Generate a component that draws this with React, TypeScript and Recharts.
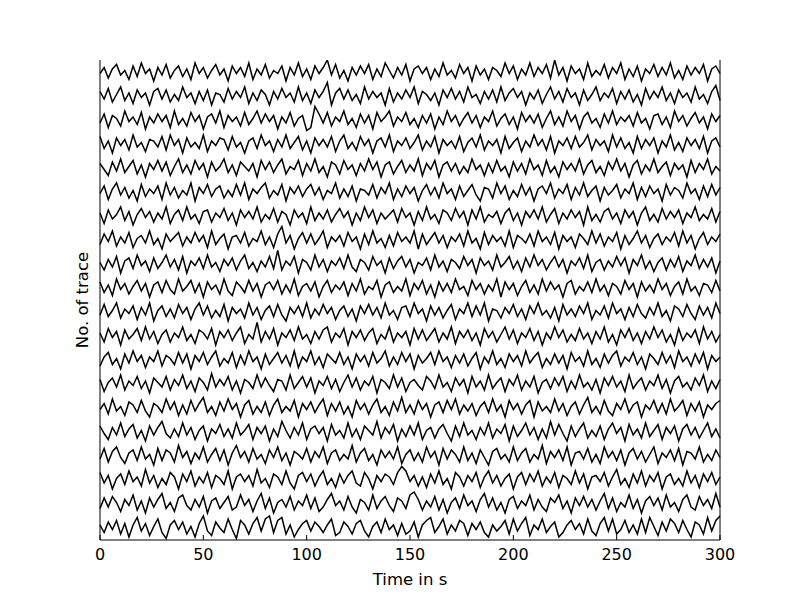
import { LineChart, Line, XAxis, YAxis, ReferenceLine } from 'recharts'

// 20 traces, bottom (t0) to top (t19); samples every 2 s, values in trace-offset units (24 per trace)
const t0 = [2,-3,4,-1,5,-4,3,-6,2,7, -2,3,-5,1,6,-3,-7,2,5,-1, 4,-4,1,-6,3,8,-2,-5,4,0, -3,6,-1,-7,5,2,-4,3,7,-2, 6,8,-3,5,7,-4,2,-6,-1,3, 5,-2,4,1,-3,2,6,-5,-3,4, 1,-4,3,5,-2,-6,1,4,-3,6, -1,2,-5,3,-4,-2,4,-6,2,5, 7,-3,1,6,-4,2,-2,5,3,-5, 3,-1,4,-3,-6,2,-2,1,5,-4, 6,-2,3,7,-5,2,-1,6,-3,1, 4,-6,-3,2,5,-1,3,-4,6,-2, -5,3,7,-2,6,-4,-1,5,-3,2, -4,6,-3,7,1,-5,4,-2,6,3, -3,5,-1,-6,4,2,-4,7,-2,5, 8]
const t1 = [-3,4,-2,5,1,-5,3,-1,6,-4, 2,-6,4,-2,3,7,-3,1,-5,4, 6,-1,-4,3,-2,5,-6,2,4,-3, 1,5,-4,-2,6,-1,3,-5,2,7, -3,4,-6,1,3,-2,5,-4,2,-1, 6,-3,4,-5,-2,3,7,-1,2,-4, 5,-2,-6,3,1,-4,6,-3,2,5, -1,-5,4,2,-3,6,8,3,-4,2, -2,5,-4,3,-6,1,4,-3,6,-1, 2,-5,3,7,-2,4,-4,1,-6,3, 5,-3,2,-1,6,-4,3,-2,-5,4, 1,6,-3,2,-6,4,-1,5,-2,3, -4,2,7,-3,4,-5,1,-2,6,-3, 3,-6,2,5,-1,4,-4,6,-2,1, -5,3,6,-2,-4,5,-1,3,-3,7, -2]
const t2 = [5,-2,3,-6,1,4,-3,6,-1,2, -4,7,-2,3,-5,1,-3,5,2,-6, 4,-1,6,-4,2,-2,5,-5,3,1, -3,6,-6,2,4,-1,3,-4,7,-2, 1,-5,4,2,-3,6,-2,-6,3,5, -1,4,-4,2,6,-3,1,-5,4,-2, 3,6,-2,-4,5,1,-6,3,-1,4, 2,-3,5,9,6,-1,3,-4,2,-5, 4,-2,6,-3,1,-6,5,2,-4,3, -1,5,-5,2,6,-2,3,-4,1,4, -6,2,5,-3,4,-1,6,-4,2,-2, 5,-5,3,1,-3,6,-2,4,-6,2, 3,-1,5,-4,2,7,-3,1,-5,4, -2,6,-4,3,-1,5,-6,2,4,-3, 1,-4,6,-2,3,-5,4,-1,5,-3, 2]
const t3 = [-2,5,-4,3,6,-1,-5,2,4,-3, 6,-2,1,-6,5,-3,4,2,-4,7, -1,3,-5,2,-2,6,-4,1,5,-3, 4,-6,2,7,-1,3,-4,5,-2,1, -5,4,-1,6,-3,2,-6,3,1,-2, 5,-4,3,-1,6,-5,2,4,-3,1, -2,7,-4,2,5,-3,1,-6,4,-1, 3,-2,6,-5,1,4,-3,2,-4,6, -1,3,-6,5,-2,4,1,-4,6,-3, 2,-5,4,-1,-6,3,5,-2,1,-4, 6,-3,2,5,-4,1,-2,7,-5,3, -1,4,-3,6,-6,2,3,-2,5,-4, 1,-5,6,-1,3,-3,4,-6,2,5, -2,3,-4,1,6,-5,2,-1,4,-3, 5,-6,3,2,-2,6,-4,1,-3,4, -1]
const t4 = [4,-1,-5,3,-2,6,-3,2,5,-4, 1,-6,4,-2,3,7,-1,-4,2,-3, 6,-2,3,-5,1,4,-6,2,-1,5, -3,2,-4,6,-2,1,5,-5,3,-1, 4,-6,2,-3,7,1,-4,3,-2,6, -5,2,4,-1,3,-6,5,-2,1,-4, 6,-3,2,-5,4,1,-2,7,-4,3, -1,5,-6,2,-3,4,-2,6,-5,1, 3,-4,2,5,-1,-6,4,-3,6,-2, 1,-5,3,-2,6,-4,2,-1,5,-6, 4,-3,1,6,-2,3,-5,2,-4,7, -2,5,-1,-6,4,-3,2,6,-4,1, -3,4,-5,2,6,-1,3,-6,5,-2, 2,-4,6,-3,1,5,-5,3,-1,4, -6,2,5,-2,3,-4,1,6,-3,2, -4]
const t5 = [-1,3,-4,6,-2,1,-5,4,2,-3, 5,-2,-6,3,1,-3,6,-1,4,-5, 2,-4,5,-2,3,7,-3,1,-5,4, -2,6,-1,3,-6,2,5,-4,1,-3, 4,-5,2,6,-3,1,-2,5,-6,3, -1,4,-3,2,6,-5,3,-2,4,-4, 1,-6,5,-1,3,-4,2,6,-3,1, -5,4,-2,7,-3,2,-4,5,-1,3, -6,2,4,-3,5,-1,6,-4,2,-2, 3,-5,1,4,-3,6,-2,2,-6,5, -1,3,-4,2,5,-6,4,-2,1,-3, 6,-2,3,-5,1,4,-4,2,7,-3, 1,-4,5,-2,-5,3,-1,6,-3,2, 4,-6,2,-1,5,-3,3,-4,6,-2, 1,5,-5,3,-2,4,-6,2,-1,3, 5]
const t6 = [3,-5,1,4,-2,6,-4,2,-1,5, -3,2,-6,4,1,-2,5,-4,3,-1, 6,-3,2,-5,4,1,-4,7,-2,3, -1,5,-4,2,-6,3,1,-3,6,-2, 4,-1,-5,3,2,-4,6,-3,1,5, -2,4,-6,2,-1,5,-3,3,-5,1, 6,-2,4,-4,2,-1,5,-6,3,1, -3,6,-2,4,-5,1,3,-1,-4,5, 2,-3,6,-2,1,-5,4,-1,3,-6, 5,-2,2,-4,6,-3,1,4,-5,3, -1,6,-4,2,-2,5,-6,1,3,-3, 4,-1,5,-5,2,-3,6,-2,1,-4, 3,-6,4,-1,5,-2,2,-5,6,-3, 1,4,-4,2,-1,6,-3,3,-6,2, 5,-2,1,-4,4,-1,6,-5,2,-3, 3]
const t7 = [-4,2,5,-3,1,-6,4,-2,6,-1, 3,-5,2,-1,6,-4,3,1,-3,5, -2,4,-6,3,-1,5,-3,2,6,-4, 1,-2,5,-5,3,-3,6,-1,2,-6, 4,-3,1,5,-2,3,-4,6,-5,2, -1,6,-3,2,-5,4,1,-2,5,-3, 2,-6,4,-1,3,-4,5,-2,1,6, -4,2,-3,5,-1,4,-6,3,-2,1, 5,-3,6,-1,2,-5,3,-2,4,-4, 1,5,-6,2,-2,6,-3,1,-5,4, -1,3,-4,6,-2,2,5,-5,1,-3, 4,-2,3,-6,5,-1,2,-4,6,-3, 1,-5,4,-2,3,6,-4,2,-1,5, -3,2,-6,4,1,-3,5,-2,3,-5, 6,-1,2,-4,4,-2,5,-6,3,-1, 2]
const t8 = [2,-4,5,-1,3,-6,4,-2,1,5, -3,6,-2,3,-5,1,4,-4,2,-1, 6,-3,1,-5,4,2,-2,5,-6,3, -1,4,-3,2,6,-5,1,-2,9,-4, 3,-2,5,-6,2,-1,4,-3,6,-2, 1,-5,3,-2,4,6,-4,2,-1,5, -6,3,-1,4,-3,2,5,-5,1,-2, 6,-4,2,-1,3,-6,5,-2,4,-3, 1,5,-4,2,-2,6,-5,3,-1,4, -3,2,-6,5,-1,3,-4,1,6,-2, 4,-5,2,-1,5,-3,3,-6,2,-2, 6,-1,4,-4,1,-3,5,-2,2,-5, 3,-2,6,-4,1,-6,4,-1,5,-3, 2,-5,3,-2,6,-1,4,-4,1,-6, 5,-3,2,-1,4,-5,6,-2,3,-4, 1]
const t9 = [-2,5,-3,1,6,-4,2,-1,4,-5, 3,-2,6,-6,1,4,-3,2,-4,5, -1,3,-5,2,6,-2,4,-4,1,-3, 5,-6,3,-1,2,-4,6,-2,3,-5, 1,4,-3,5,-2,-6,3,-1,4,-3, 6,-4,2,-2,5,-1,3,-5,1,4, -3,2,-6,4,-1,5,-2,3,-4,6, -2,1,-5,3,4,-3,6,-1,2,-6, 4,-2,3,-4,1,5,-5,2,-1,6, -3,4,-2,6,-6,2,1,-4,3,-1, 5,-3,2,-5,4,-1,6,-2,1,-4, 3,-6,5,-2,2,-3,4,-1,6,-5, 1,-2,4,-4,6,-1,2,-5,3,-3, 5,-1,-4,3,-2,6,-3,1,-6,4, 2,-3,5,-1,-5,4,-2,3,-4,6, -1]
const t10 = [4,-3,2,-5,6,-1,3,-4,1,5, -2,3,-6,2,4,-3,5,-1,-4,6, -2,1,5,-3,3,-6,4,-1,2,-4, 6,-2,-5,4,1,-3,5,-2,3,-6, 2,4,-1,5,-4,2,-3,6,-5,1, 3,-2,4,-6,1,5,-3,2,-1,4, -5,3,-2,6,-4,1,-1,5,-6,2, 4,-3,1,-2,6,-5,3,-1,5,-4, 2,-6,4,-2,3,-3,6,-1,1,-5, 5,-1,3,-4,2,-2,6,-6,4,-1, 3,-5,1,5,-3,2,-4,6,-2,4, -1,2,-6,3,5,-4,1,-2,4,-3, 6,-2,2,-5,3,1,-4,5,-1,3, -6,4,-2,2,-3,6,-1,3,-5,1, 4,-4,6,-2,1,-5,3,2,-3,5, -2]
const t11 = [1,-4,3,-2,5,-6,2,4,-3,6, -1,2,-5,4,-3,1,6,-2,3,-4, 5,-6,2,-1,4,-3,6,-2,1,-5, 3,-1,4,-4,2,6,-3,1,-5,2, -2,5,-3,9,-4,2,-1,5,-6,3, 1,-4,6,-2,3,-5,2,-1,4,-3, 6,-2,-5,3,1,-4,5,-1,2,-6, 4,-3,2,5,-2,3,-6,1,-1,4, -4,6,-2,2,-5,3,1,-3,5,-1, 3,-6,4,-1,2,-4,6,-2,1,5, -3,2,-5,4,-2,6,-1,3,-4,1, 5,-2,3,-6,2,-1,4,-3,6,-5, 1,3,-4,2,-2,5,-1,4,-6,3, -1,6,-3,2,-5,1,4,-4,3,-2, 5,-5,2,-1,6,-3,3,-2,4,-6, 2]
const t12 = [-3,4,-1,6,-4,2,-2,5,-5,1, 3,-2,6,-3,1,-6,4,-1,2,5, -4,2,-2,5,-1,3,-5,6,-3,1, 4,-6,2,3,-2,5,-4,1,-1,6, -3,2,-5,4,9,-2,3,-6,1,5, -2,4,-3,1,6,-5,2,-1,3,-4, 5,-1,2,-6,4,-3,6,-2,1,-5, 3,-4,5,-1,2,-2,6,-6,4,-3, 1,5,-2,3,-5,2,-1,4,-4,6, -2,1,-6,5,-3,3,-1,2,-4,6, -5,3,1,-2,4,-4,6,-1,2,-3, 5,-6,3,-1,2,-5,4,1,-3,6, -2,4,-4,2,-1,5,-6,3,-3,1, 6,-2,3,-5,1,4,-3,2,-1,5, -4,6,-2,3,-6,1,5,-3,2,-1, 4]
const t13 = [2,-5,4,-2,1,6,-3,3,-6,1, 5,-1,3,-4,2,-2,6,-5,1,4, -3,6,-2,1,-5,3,4,-4,2,-1, 5,-3,2,-6,4,-1,3,-2,6,-4, 1,-2,5,-4,3,1,-6,4,-1,2, -5,6,-3,2,-2,4,-4,1,5,-1, 3,-6,2,-3,6,-1,4,-5,2,-2, 1,4,-4,5,-1,2,-6,3,-3,6, -2,1,-5,4,2,-3,5,-1,3,-6, 4,-2,6,-4,1,-1,3,-5,2,5, -3,2,-6,3,-1,4,-2,6,-4,1, 5,-5,2,-2,4,-1,3,-6,6,-3, 1,-4,3,5,-2,2,-5,4,-1,3, -6,2,6,-3,1,-4,5,-2,3,-1, 4,-5,2,-1,6,-3,1,-2,5,-4, 3]
const t14 = [-1,4,-5,2,6,-2,3,-4,1,-6, 5,-3,2,-1,4,-5,6,-2,3,-4, 1,-2,6,-6,3,-1,5,-3,2,4, -4,1,-3,5,-2,6,-5,2,-1,3, 6,-4,1,-2,5,-6,3,-1,4,-3, 2,5,-2,3,-5,1,-1,6,-4,2, -3,4,-6,2,1,-2,5,-4,3,-1, 6,-5,2,-3,4,-1,3,-6,1,5, -2,3,-4,6,-1,2,-5,4,-3,1, 5,-2,-6,3,2,-4,6,-1,4,-5, 1,-3,5,-2,3,-6,2,4,-1,6, -4,2,-1,5,-5,3,-2,6,-3,1, 4,-6,3,-2,1,5,-4,2,-1,6, -5,3,-3,4,-1,2,-6,5,-2,3, 1,-4,6,-1,2,-5,4,-3,5,-2, 3]
const t15 = [3,-1,-5,4,-2,6,-3,1,5,-4, 2,-6,3,-1,5,-2,4,-5,1,6, -3,2,-4,5,-1,3,-6,4,-2,1, 6,-3,2,-5,4,1,-2,3,-6,5, -1,4,-3,2,6,-4,1,-1,5,-5, 3,-2,6,-3,1,-6,4,2,-4,5, -1,2,-5,3,-2,6,-1,4,-6,2, 4,-4,1,5,-3,2,-2,6,-5,3, -1,5,-6,2,4,-2,3,-4,1,-3, 6,-1,2,-5,3,-3,5,-2,1,-6, 4,-2,3,-4,6,-1,2,-5,5,-3, 1,-6,4,-1,3,-2,6,-4,2,5, -3,1,-5,4,-1,6,-2,3,-6,2, 5,-4,2,-2,6,-3,1,4,-5,3, -1,2,-6,5,-3,3,-1,6,-4,1, -2]
const t16 = [5,-3,2,-6,4,-1,3,-4,6,-2, 1,-5,3,2,-2,5,-4,6,-1,3, -6,4,-2,1,-3,6,-5,2,-1,4, 3,-4,5,-2,1,-6,2,4,-3,6, -1,2,-5,3,-2,6,-3,1,5,-4, 2,-6,4,-1,3,-2,5,-5,2,6, -3,1,-4,5,-1,3,-6,2,4,-2, 6,-5,2,-1,4,-3,1,6,-4,2, -2,5,-6,3,-1,2,-3,5,-5,1, 4,-2,6,-4,2,-1,3,-6,5,-3, 1,4,-5,2,-2,6,-1,3,-4,5, -6,2,-1,4,-3,5,-2,1,6,-4, 3,-1,2,-5,6,-2,4,-3,1,-6, 5,-3,3,-1,4,-6,2,-2,6,-4, 1,-5,4,-1,3,-3,5,-6,2,4, -2]
const t17 = [-2,4,-5,3,1,-4,6,-1,2,-3, 5,-6,2,-2,4,-1,3,-5,6,-3, 1,-4,5,-1,3,-6,2,4,-2,6, -5,3,-1,2,-4,5,-3,1,6,-2, 4,-1,3,-6,2,-2,5,-4,1,3, -7,-5,9,4,-2,5,-4,2,-1,6, -3,1,-5,4,-2,3,-6,5,-1,2, 6,-4,2,-1,5,-3,1,-5,3,-2, 4,-6,2,-3,6,-1,3,-4,1,5, -2,3,-5,2,-1,6,-4,1,4,-3, 2,-6,5,-1,3,-2,4,-5,1,6, -3,2,-4,6,-1,3,-6,2,5,-2, 1,-5,4,-2,6,-3,2,-1,3,-4, 5,-2,1,-6,3,4,-3,2,-5,6, -1,3,-4,1,5,-2,2,-6,4,-1, 3]
const t18 = [3,-2,5,-4,1,6,-3,2,-5,4, -1,2,-6,3,5,-2,4,-4,1,-3, 6,-1,2,-5,3,-3,4,-6,2,1, -4,5,-2,3,-1,6,-5,2,-3,4, 1,-6,3,-2,5,-1,2,-4,6,-3, 2,-5,4,-1,3,9,-6,2,5,-2, 4,-3,1,-5,6,-2,3,-1,2,-6, 5,-4,2,-2,4,-1,6,-5,3,1, -3,2,-6,4,-1,5,-2,3,-4,6, -1,1,-5,3,-2,4,-4,6,-3,2, 5,-1,3,-6,2,-2,4,-5,1,6, -2,3,-4,5,-1,2,-6,4,-3,1, 6,-3,2,-1,5,-5,3,-2,4,-4, 1,-6,5,-2,3,-1,6,-3,2,-5, 4,-1,2,-4,6,-2,1,-5,3,7, -3]
const t19 = [-1,3,-4,2,5,-2,1,-5,4,-3, 6,-1,2,-6,3,-2,5,-4,1,4, -3,2,-5,6,-1,3,-4,1,5,-2, 2,-6,4,-1,3,-3,6,-5,2,-2, 5,-4,1,-1,4,-6,3,-2,6,-3, 2,-5,4,-1,3,8,-2,5,-4,1, -6,3,-2,4,-1,5,-5,2,-3,6, 1,-4,3,-2,5,-6,2,4,-1,3, -5,2,-3,6,-2,1,-4,5,-1,3, -6,4,-2,2,-5,3,1,-3,6,-1, 4,-5,2,-2,6,-3,3,-1,5,-4, 8,-2,3,-6,4,-1,2,-5,6,-3, 1,-2,5,-4,3,-1,6,-5,2,-3, 4,-6,2,-1,5,-3,3,-2,6,-4, 1,-5,4,-2,3,-1,5,-6,2,4, -1]

const traces = [t0, t1, t2, t3, t4, t5, t6, t7, t8, t9, t10, t11, t12, t13, t14, t15, t16, t17, t18, t19]
const sampleStep = 2 // seconds between samples
const traceGap = 24
const gain = 1.5
const xTicks = [0, 50, 100, 150, 200, 250, 300]

const data = t0.map((_, k) => {
  const row: Record<string, number> = { t: k * sampleStep }
  traces.forEach((tr, i) => {
    row[`s${i}`] = i * traceGap + tr[k] * gain
  })
  return row
})

const font = 'DejaVu Sans, sans-serif'

const BottomTick = ({ x, y, payload }: any) => (
  <g>
    <line x1={x} x2={x} y1={y} y2={y - 5} stroke="#000" />
    <text x={x} y={y + 20} textAnchor="middle" fontSize={16} fontFamily={font} fill="#000">
      {payload.value}
    </text>
  </g>
)

const TopTick = ({ x, y }: any) => (
  <line x1={x} x2={x} y1={y} y2={y + 5} stroke="#000" />
)

export default function App() {
  return (
    <div style={{ position: 'absolute', left: 0, top: 0, background: '#fff' }}>
      <LineChart width={800} height={600} data={data} margin={{ top: 60, right: 80, bottom: 0, left: 0 }}>
        <XAxis
          dataKey="t"
          type="number"
          domain={[0, 300]}
          ticks={xTicks}
          height={60}
          tickSize={0}
          tickMargin={0}
          tickLine={false}
          tick={<BottomTick />}
          axisLine={{ stroke: '#000' }}
          label={({ viewBox }: any) => (
            <text x={viewBox.x + viewBox.width / 2} y={viewBox.y + 45} textAnchor="middle" fontSize={16.5} fontFamily={font} fill="#000">
              Time in s
            </text>
          )}
        />
        <XAxis
          xAxisId="top"
          orientation="top"
          type="number"
          domain={[0, 300]}
          ticks={xTicks}
          height={0}
          tickSize={0}
          tickMargin={0}
          tickLine={false}
          tick={<TopTick />}
          axisLine={{ stroke: '#000' }}
        />
        <YAxis
          type="number"
          domain={[-12, 468]}
          allowDataOverflow
          width={100}
          tick={false}
          tickLine={false}
          axisLine={{ stroke: '#000' }}
          label={({ viewBox }: any) => {
            const cx = viewBox.x + viewBox.width - 18
            const cy = viewBox.y + viewBox.height / 2
            return (
              <text x={cx} y={cy} transform={`rotate(-90 ${cx} ${cy})`} textAnchor="middle" dominantBaseline="central" fontSize={16.5} fontFamily={font} fill="#000">
                No. of trace
              </text>
            )
          }}
        />
        <ReferenceLine x={300} stroke="#000" />
        {traces.map((_, i) => (
          <Line
            key={i}
            type="linear"
            dataKey={`s${i}`}
            stroke="#000"
            strokeWidth={1.5}
            dot={false}
            activeDot={false}
            isAnimationActive={false}
          />
        ))}
      </LineChart>
    </div>
  )
}
